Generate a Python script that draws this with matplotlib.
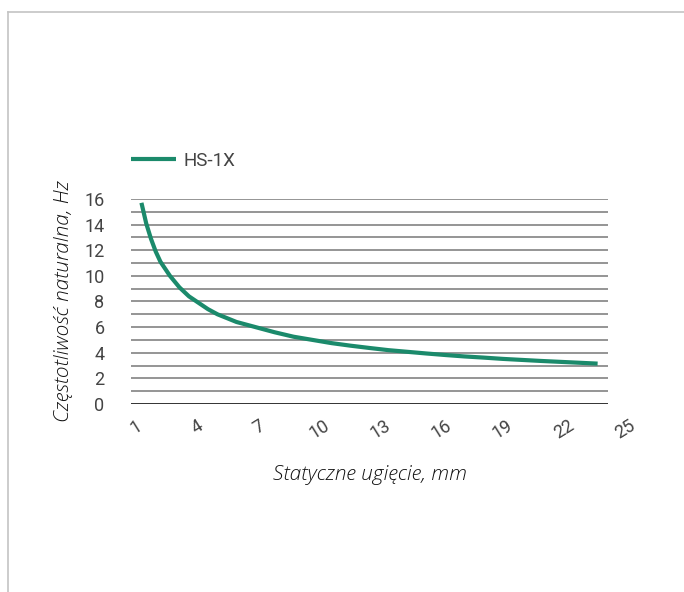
import numpy as np
import matplotlib.pyplot as plt
from matplotlib.lines import Line2D
from matplotlib.transforms import ScaledTranslation

# static deflection (mm) and natural frequency (Hz)
# (extra readings at half steps where the curve bends sharply)
deflection = [1, 1.25, 1.5, 1.75, 2, 2.5, 3, 3.5, 4, 4.5, 5, 5.5, 6, 7, 8, 9, 10,
              11, 12, 13, 14, 15, 16, 17, 18, 19, 20, 21, 22, 23, 24, 25]
frequency = [15.7, 14.1, 12.9, 11.9, 11.1, 10.0, 9.1, 8.4, 7.9, 7.4, 7.0, 6.7,
             6.4, 6.0, 5.6, 5.25, 5.0, 4.75, 4.55, 4.37, 4.2, 4.07, 3.94, 3.82,
             3.71, 3.62, 3.52, 3.44, 3.36, 3.29, 3.22, 3.15]
x_ticks = [1, 4, 7, 10, 13, 16, 19, 22, 25]
y_ticks = [0, 2, 4, 6, 8, 10, 12, 14, 16]
series_name = "HS-1X"

fig = plt.figure(figsize=(6.84, 5.92), dpi=100)
ax = fig.add_axes([0.1915, 0.3176, 0.6975, 0.3463])

# light grid every 1 Hz, darker baseline at 0
for v in range(1, 17):
    ax.axhline(v, color="#8c8c8c", lw=1.3, zorder=1)
ax.axhline(0, color="#333333", lw=1.4, zorder=1)

ax.plot(deflection, frequency, color="#1b8a6b", lw=3, zorder=3,
        solid_capstyle="butt", solid_joinstyle="round", label=series_name)

ax.set_xlim(0.45, 25.55)
ax.set_ylim(0, 16)
for s in ax.spines.values():
    s.set_visible(False)
ax.tick_params(length=0)
ax.set_xticks(x_ticks)
ax.set_xticklabels([str(t) for t in x_ticks], rotation=32, ha="center",
                   fontsize=13, color="#444444", family="Roboto")
ax.set_yticks(y_ticks)
ax.set_yticklabels([str(t) for t in y_ticks], fontsize=13,
                   color="#444444", family="Roboto")
ax.tick_params(axis="y", pad=19)
ax.tick_params(axis="x", pad=9)

# the original's x labels drift slightly right of their categories
for t, lab in zip(x_ticks, ax.get_xticklabels()):
    dx = (-5 + (t - 1) * 1.35) / 100
    lab.set_transform(lab.get_transform() + ScaledTranslation(dx, 0, fig.dpi_scale_trans))

ax.set_xlabel("Statyczne ugięcie, mm", fontsize=15, style="italic",
              family="Open Sans", fontweight="light", color="#111111", labelpad=16)
ax.set_ylabel("Częstotliwość naturalna, Hz", fontsize=15, style="italic",
              family="Open Sans", fontweight="light", color="#111111", labelpad=8)

leg = ax.legend(loc="lower left", bbox_to_anchor=(-0.035, 1.06), frameon=False,
                handlelength=2.4, handletextpad=0.4,
                prop={"family": "Roboto", "size": 13.5})
for t in leg.get_texts():
    t.set_color("#444444")

# page frame lines
fig.add_artist(Line2D([8 / 684, 1], [1 - 12 / 592, 1 - 12 / 592],
                      transform=fig.transFigure, color="#c4c4c4", lw=1.2))
fig.add_artist(Line2D([8 / 684, 8 / 684], [0, 1 - 12 / 592],
                      transform=fig.transFigure, color="#c4c4c4", lw=1.2))

fig.savefig("out.png", dpi=100)
